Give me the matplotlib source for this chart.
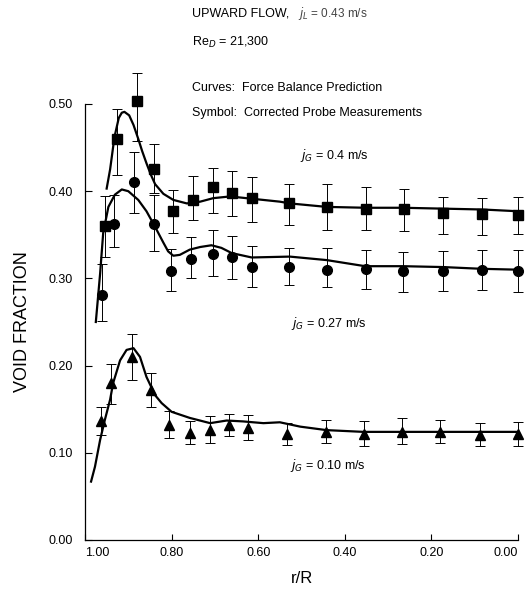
import numpy as np
import matplotlib.pyplot as plt
from matplotlib.ticker import FormatStrFormatter

plt.rcParams['font.family'] = ['Liberation Sans', 'DejaVu Sans']

# measured points, jG = 0.4 m/s (squares)
r_sq = [0.954, 0.927, 0.879, 0.840, 0.796, 0.750, 0.705, 0.661, 0.615,
        0.528, 0.440, 0.352, 0.263, 0.173, 0.084, 0.0]
vf_sq = [0.360, 0.460, 0.503, 0.426, 0.377, 0.390, 0.405, 0.398, 0.392,
         0.386, 0.382, 0.380, 0.380, 0.375, 0.374, 0.373]
err_sq_lo = [0.035, 0.041, 0.045, 0.028, 0.025, 0.023, 0.030, 0.027, 0.027,
             0.025, 0.027, 0.025, 0.026, 0.024, 0.024, 0.022]
err_sq_hi = [0.034, 0.034, 0.033, 0.028, 0.024, 0.027, 0.022, 0.025, 0.024,
             0.022, 0.026, 0.025, 0.022, 0.018, 0.018, 0.020]

# measured points, jG = 0.27 m/s (circles)
r_ci = [0.960, 0.933, 0.887, 0.841, 0.801, 0.755, 0.705, 0.661, 0.615,
        0.528, 0.442, 0.352, 0.265, 0.173, 0.084, 0.0]
vf_ci = [0.281, 0.362, 0.411, 0.362, 0.309, 0.322, 0.328, 0.324, 0.313,
         0.313, 0.310, 0.311, 0.309, 0.308, 0.310, 0.309]
err_ci_lo = [0.030, 0.026, 0.036, 0.031, 0.024, 0.021, 0.025, 0.025, 0.023,
             0.021, 0.020, 0.023, 0.025, 0.022, 0.023, 0.025]
err_ci_hi = [0.035, 0.034, 0.034, 0.034, 0.025, 0.026, 0.028, 0.025, 0.024,
             0.022, 0.025, 0.022, 0.021, 0.023, 0.022, 0.024]

# measured points, jG = 0.10 m/s (triangles)
r_tr = [0.962, 0.941, 0.891, 0.848, 0.805, 0.758, 0.711, 0.667, 0.623,
        0.534, 0.444, 0.355, 0.267, 0.179, 0.088, 0.0]
vf_tr = [0.136, 0.180, 0.210, 0.172, 0.132, 0.123, 0.126, 0.132, 0.128,
         0.121, 0.124, 0.122, 0.124, 0.124, 0.120, 0.121]
err_tr_lo = [0.016, 0.024, 0.026, 0.020, 0.015, 0.013, 0.015, 0.013, 0.013,
             0.012, 0.013, 0.014, 0.014, 0.013, 0.012, 0.013]
err_tr_hi = [0.017, 0.022, 0.026, 0.019, 0.016, 0.014, 0.016, 0.013, 0.015,
             0.013, 0.014, 0.015, 0.016, 0.014, 0.014, 0.014]

# force balance prediction curves
r_c04 = [0.950, 0.942, 0.932, 0.922, 0.915, 0.909, 0.898, 0.888, 0.877, 0.868,
         0.858, 0.848, 0.838, 0.819, 0.796, 0.765, 0.734, 0.704, 0.665, 0.627,
         0.550, 0.527, 0.442, 0.351, 0.266, 0.173, 0.081, 0.0]
vf_c04 = [0.403, 0.425, 0.462, 0.484, 0.490, 0.491, 0.487, 0.476, 0.460, 0.446,
          0.432, 0.419, 0.408, 0.397, 0.390, 0.386, 0.388, 0.392, 0.394, 0.392,
          0.388, 0.386, 0.382, 0.381, 0.381, 0.380, 0.379, 0.377]

r_c027 = [0.975, 0.965, 0.958, 0.946, 0.931, 0.915, 0.900, 0.877, 0.858, 0.838,
          0.819, 0.808, 0.796, 0.781, 0.758, 0.734, 0.708, 0.685, 0.661, 0.615,
          0.527, 0.442, 0.353, 0.265, 0.173, 0.084, 0.0]
vf_c027 = [0.250, 0.306, 0.352, 0.382, 0.396, 0.402, 0.400, 0.390, 0.377, 0.359,
           0.341, 0.331, 0.326, 0.327, 0.333, 0.336, 0.338, 0.335, 0.329, 0.324,
           0.325, 0.321, 0.314, 0.314, 0.313, 0.311, 0.310]

r_c010 = [0.986, 0.977, 0.965, 0.954, 0.942, 0.935, 0.919, 0.904, 0.888, 0.873,
          0.858, 0.838, 0.823, 0.800, 0.758, 0.711, 0.673, 0.635, 0.588, 0.550,
          0.503, 0.442, 0.357, 0.265, 0.173, 0.080, 0.0]
vf_c010 = [0.067, 0.084, 0.115, 0.138, 0.161, 0.180, 0.206, 0.218, 0.220, 0.210,
           0.187, 0.166, 0.157, 0.147, 0.140, 0.134, 0.137, 0.136, 0.134, 0.135,
           0.130, 0.126, 0.124, 0.124, 0.124, 0.124, 0.124]

yticks = [0.0, 0.1, 0.2, 0.3, 0.4, 0.5]
xticks = [1.0, 0.8, 0.6, 0.4, 0.2, 0.0]

W, H = 529, 590
fig = plt.figure(figsize=(W / 100, H / 100), dpi=100)
ax = fig.add_axes([85 / W, 1 - 540 / H, 433 / W, 436 / H])

for r, v in [(r_c04, vf_c04), (r_c027, vf_c027), (r_c010, vf_c010)]:
    ax.plot(r, v, color='black', lw=1.6, clip_on=False, zorder=3,
            solid_joinstyle='round')

eb_kw = dict(fmt='none', ecolor='black', elinewidth=0.7, capsize=3.5,
             capthick=0.7, clip_on=False, zorder=2)
ax.errorbar(r_sq, vf_sq, yerr=[err_sq_lo, err_sq_hi], **eb_kw)
ax.errorbar(r_ci, vf_ci, yerr=[err_ci_lo, err_ci_hi], **eb_kw)
ax.errorbar(r_tr, vf_tr, yerr=[err_tr_lo, err_tr_hi], **eb_kw)

ax.plot(r_sq, vf_sq, 's', color='black', ms=6.5, ls='none', clip_on=False, zorder=4)
ax.plot(r_ci, vf_ci, 'o', color='black', ms=7, ls='none', clip_on=False, zorder=4)
ax.plot(r_tr, vf_tr, '^', color='black', ms=7.5, ls='none', clip_on=False, zorder=4)

ax.set_xlim(1.0, 0.0)
ax.set_ylim(0.0, 0.5)
ax.set_xticks(xticks)
ax.set_yticks(yticks)
ax.xaxis.set_major_formatter(FormatStrFormatter('%.2f'))
ax.yaxis.set_major_formatter(FormatStrFormatter('%.2f'))
ax.tick_params(axis='y', direction='in', length=5, width=0.8, pad=9, labelsize=9)
ax.tick_params(axis='x', direction='in', length=4, width=0.8, pad=5, labelsize=9)
xlabels = ax.get_xticklabels()
xlabels[0].set_ha('left')
xlabels[-1].set_ha('right')
for s in ['top', 'right']:
    ax.spines[s].set_visible(False)
for s in ['left', 'bottom']:
    ax.spines[s].set_linewidth(0.9)

ax.set_ylabel('VOID FRACTION', fontsize=13, labelpad=12)
ax.set_xlabel('r/R', fontsize=12, labelpad=9)

def ftext(x, y, s, **kw):
    fig.text(x / W, 1 - y / H, s, va='center', ha='left', **kw)

ftext(192, 13, 'UPWARD FLOW,', fontsize=9)
ftext(298, 14, r'$j_L$ = 0.43 m/s', fontsize=8.5, color='#444444')
ftext(192, 42, r'Re$_D$ = 21,300', fontsize=9)
ftext(192, 88, 'Curves:  Force Balance Prediction', fontsize=9)
ftext(192, 113, 'Symbol:  Corrected Probe Measurements', fontsize=9)
ftext(300, 155, r'$j_G$ = 0.4 m/s', fontsize=9)
ftext(291, 324, r'$j_G$ = 0.27 m/s', fontsize=9)
ftext(290, 466, r'$j_G$ = 0.10 m/s', fontsize=9)

fig.savefig('out.png', dpi=100)
